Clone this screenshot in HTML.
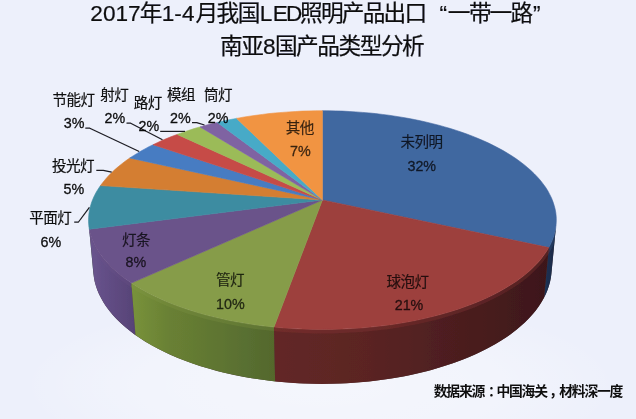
<!DOCTYPE html>
<html lang="zh"><head><meta charset="utf-8"><title>2017年1-4月我国LED照明产品出口“一带一路”南亚8国产品类型分析</title>
<style>
html,body{margin:0;padding:0;background:#edf0fb;}
body{width:636px;height:419px;overflow:hidden;font-family:"Liberation Sans","Noto Sans CJK SC",sans-serif;}
svg{display:block;font-family:"Liberation Sans","Noto Sans CJK SC",sans-serif;}
</style></head><body>
<svg width="636" height="419" viewBox="0 0 636 419" role="img">
<defs><filter id="soft" x="0" y="0" width="100%" height="100%" filterUnits="userSpaceOnUse"><feGaussianBlur stdDeviation=".45"/></filter><radialGradient id="ul" cx="0.5" cy="0.5" r="0.5"><stop offset="0" stop-color="#fff" stop-opacity=".42"/><stop offset=".6" stop-color="#fff" stop-opacity=".28"/><stop offset="1" stop-color="#fff" stop-opacity="0"/></radialGradient><linearGradient id="w0" gradientUnits="userSpaceOnUse" x1="540" y1="0" x2="558" y2="0"><stop offset="0" stop-color="#22365c"/><stop offset="1" stop-color="#172641"/></linearGradient><linearGradient id="w1" gradientUnits="userSpaceOnUse" x1="274" y1="0" x2="552" y2="0"><stop offset="0" stop-color="#632826"/><stop offset="0.35" stop-color="#5a2423"/><stop offset="0.75" stop-color="#481c1e"/><stop offset="1" stop-color="#3c1719"/></linearGradient><linearGradient id="w2" gradientUnits="userSpaceOnUse" x1="132" y1="0" x2="274" y2="0"><stop offset="0" stop-color="#78923b"/><stop offset="0.27" stop-color="#698034"/><stop offset="0.83" stop-color="#586e30"/><stop offset="1" stop-color="#54682c"/></linearGradient><linearGradient id="w3" gradientUnits="userSpaceOnUse" x1="88" y1="0" x2="134" y2="0"><stop offset="0" stop-color="#6a558f"/><stop offset="1" stop-color="#574377"/></linearGradient><linearGradient id="w4" gradientUnits="userSpaceOnUse" x1="86" y1="0" x2="92" y2="0"><stop offset="0" stop-color="#357f97"/><stop offset="1" stop-color="#2f7389"/></linearGradient></defs>
<rect width="636" height="419" fill="#edf0fb"/><ellipse cx="320" cy="385" rx="300" ry="90" fill="url(#ul)"/>
<g filter="url(#soft)">
<g id="pie"><clipPath id="wc"><path d="M556.1,225 555.5,228.9 554.7,232.8 553.6,236.8 552.1,240.7 550.3,244.7 548.2,248.6 545.8,252.5 543,256.4 540,260.3 536.5,264.1 532.8,267.9 528.7,271.6 524.3,275.3 519.6,278.9 514.5,282.5 509.1,286 503.4,289.4 497.4,292.7 491,295.9 484.4,299 477.5,302 470.3,304.8 462.8,307.6 455.1,310.2 447.1,312.6 438.9,314.9 430.4,317.1 421.8,319.1 412.9,320.9 403.9,322.6 394.7,324.1 385.3,325.4 375.9,326.6 366.3,327.5 356.7,328.3 346.9,328.9 337.2,329.2 327.3,329.4 317.5,329.4 307.7,329.2 297.9,328.9 288.2,328.3 278.6,327.5 269,326.6 259.5,325.4 250.2,324.1 241,322.6 232,321 223.1,319.1 214.4,317.1 206,315 197.8,312.6 189.8,310.2 182,307.6 174.6,304.8 167.4,302 160.4,299 153.8,295.9 147.5,292.7 141.5,289.4 135.7,286 130.4,282.5 125.3,279 120.5,275.3 116.1,271.6 112,267.9 108.3,264.1 104.9,260.3 101.8,256.4 99,252.5 96.6,248.6 94.5,244.7 92.7,240.7 91.3,236.8 90.1,232.9 89.3,228.9 88.8,225 93.4,273.6 94,277.7 94.8,281.9 96,286.1 97.4,290.2 99.2,294.4 101.3,298.6 103.7,302.7 106.4,306.8 109.5,310.9 112.8,315 116.5,319 120.6,322.9 124.9,326.8 129.6,330.6 134.5,334.4 139.8,338.1 145.4,341.7 151.4,345.1 157.6,348.5 164.1,351.8 170.8,354.9 177.9,357.9 185.2,360.8 192.8,363.6 200.6,366.2 208.7,368.6 216.9,370.9 225.4,373 234,374.9 242.9,376.7 251.9,378.2 261,379.6 270.2,380.8 279.6,381.8 289,382.6 298.5,383.2 308.1,383.6 317.6,383.8 327.2,383.8 336.8,383.6 346.4,383.2 355.9,382.6 365.3,381.8 374.6,380.8 383.9,379.6 393,378.2 402,376.7 410.8,374.9 419.5,373 427.9,370.9 436.2,368.6 444.3,366.1 452.1,363.6 459.6,360.8 467,357.9 474,354.9 480.8,351.8 487.3,348.5 493.5,345.1 499.4,341.6 505,338.1 510.3,334.4 515.3,330.6 519.9,326.8 524.3,322.9 528.3,319 532,314.9 535.4,310.9 538.4,306.8 541.1,302.7 543.6,298.5 545.6,294.4 547.4,290.2 548.9,286.1 550,281.9 550.9,277.7 551.4,273.6 Z"/></clipPath><path d="M556.1,225 555.5,228.9 554.7,232.8 553.6,236.8 552.1,240.7 550.3,244.7 548.2,248.6 545.8,252.5 543,256.4 540,260.3 536.5,264.1 532.8,267.9 528.7,271.6 524.3,275.3 519.6,278.9 514.5,282.5 509.1,286 503.4,289.4 497.4,292.7 491,295.9 484.4,299 477.5,302 470.3,304.8 462.8,307.6 455.1,310.2 447.1,312.6 438.9,314.9 430.4,317.1 421.8,319.1 412.9,320.9 403.9,322.6 394.7,324.1 385.3,325.4 375.9,326.6 366.3,327.5 356.7,328.3 346.9,328.9 337.2,329.2 327.3,329.4 317.5,329.4 307.7,329.2 297.9,328.9 288.2,328.3 278.6,327.5 269,326.6 259.5,325.4 250.2,324.1 241,322.6 232,321 223.1,319.1 214.4,317.1 206,315 197.8,312.6 189.8,310.2 182,307.6 174.6,304.8 167.4,302 160.4,299 153.8,295.9 147.5,292.7 141.5,289.4 135.7,286 130.4,282.5 125.3,279 120.5,275.3 116.1,271.6 112,267.9 108.3,264.1 104.9,260.3 101.8,256.4 99,252.5 96.6,248.6 94.5,244.7 92.7,240.7 91.3,236.8 90.1,232.9 89.3,228.9 88.8,225 93.4,273.6 94,277.7 94.8,281.9 96,286.1 97.4,290.2 99.2,294.4 101.3,298.6 103.7,302.7 106.4,306.8 109.5,310.9 112.8,315 116.5,319 120.6,322.9 124.9,326.8 129.6,330.6 134.5,334.4 139.8,338.1 145.4,341.7 151.4,345.1 157.6,348.5 164.1,351.8 170.8,354.9 177.9,357.9 185.2,360.8 192.8,363.6 200.6,366.2 208.7,368.6 216.9,370.9 225.4,373 234,374.9 242.9,376.7 251.9,378.2 261,379.6 270.2,380.8 279.6,381.8 289,382.6 298.5,383.2 308.1,383.6 317.6,383.8 327.2,383.8 336.8,383.6 346.4,383.2 355.9,382.6 365.3,381.8 374.6,380.8 383.9,379.6 393,378.2 402,376.7 410.8,374.9 419.5,373 427.9,370.9 436.2,368.6 444.3,366.1 452.1,363.6 459.6,360.8 467,357.9 474,354.9 480.8,351.8 487.3,348.5 493.5,345.1 499.4,341.6 505,338.1 510.3,334.4 515.3,330.6 519.9,326.8 524.3,322.9 528.3,319 532,314.9 535.4,310.9 538.4,306.8 541.1,302.7 543.6,298.5 545.6,294.4 547.4,290.2 548.9,286.1 550,281.9 550.9,277.7 551.4,273.6 Z" fill="#4a3a3a"/>
<path d="M89.3,229.2 89,227.1 88.8,225 93.4,273.6 93.7,275.8 94,278 Z" fill="url(#w4)"/><path clip-path="url(#wc)" d="M89.3,231.2 89,229.1 88.8,227" fill="none" stroke="#3c8ca1" stroke-opacity=".24" stroke-width="4"/>
<path d="M556.1,225 555.6,228.7 554.8,232.5 553.7,236.3 552.4,240 550.7,243.8 548.8,247.6 544.1,297.5 546.1,293.5 547.7,289.5 549,285.5 550.1,281.5 550.9,277.5 551.4,273.6 Z" fill="url(#w0)"/><path clip-path="url(#wc)" d="M556.1,227 555.6,230.7 554.8,234.5 553.7,238.3 552.4,242 550.7,245.8 548.8,249.6" fill="none" stroke="#4167a0" stroke-opacity=".24" stroke-width="4"/>
<path d="M131.3,283.1 126.5,279.8 121.9,276.4 117.7,273 113.7,269.5 110,265.9 106.7,262.3 103.6,258.7 100.8,255.1 98.3,251.4 96.1,247.7 94.2,244 92.5,240.3 91.2,236.6 90.1,232.9 89.3,229.2 94,278 94.8,281.9 95.9,285.9 97.2,289.8 98.9,293.7 100.8,297.6 103,301.5 105.4,305.4 108.2,309.3 111.2,313.1 114.6,316.9 118.2,320.6 122.1,324.3 126.3,328 130.7,331.5 135.5,335.1 Z" fill="url(#w3)"/><path clip-path="url(#wc)" d="M131.3,285.1 126.5,281.8 121.9,278.4 117.7,275 113.7,271.5 110,267.9 106.7,264.3 103.6,260.7 100.8,257.1 98.3,253.4 96.1,249.7 94.2,246 92.5,242.3 91.2,238.6 90.1,234.9 89.3,231.2" fill="none" stroke="#6b528a" stroke-opacity=".24" stroke-width="4"/>
<path d="M274,327.1 264.8,326.1 255.7,324.9 246.7,323.6 237.9,322.1 229.2,320.4 220.8,318.6 212.4,316.6 204.3,314.5 196.4,312.2 188.7,309.8 181.3,307.3 174.1,304.7 167.2,301.9 160.5,299 154.1,296 147.9,292.9 142.1,289.8 136.5,286.5 131.3,283.1 135.5,335.1 140.6,338.6 146.1,342 151.8,345.4 157.8,348.6 164.1,351.8 170.6,354.8 177.4,357.8 184.5,360.5 191.8,363.2 199.3,365.7 207,368.1 215,370.3 223.1,372.4 231.4,374.3 239.9,376.1 248.5,377.7 257.2,379.1 266.1,380.3 275.1,381.4 Z" fill="url(#w2)"/><path clip-path="url(#wc)" d="M274,329.1 264.8,328.1 255.7,326.9 246.7,325.6 237.9,324.1 229.2,322.4 220.8,320.6 212.4,318.6 204.3,316.5 196.4,314.2 188.7,311.8 181.3,309.3 174.1,306.7 167.2,303.9 160.5,301 154.1,298 147.9,294.9 142.1,291.8 136.5,288.5 131.3,285.1" fill="none" stroke="#869c49" stroke-opacity=".24" stroke-width="4"/>
<path d="M548.8,247.6 546.5,251.5 543.8,255.3 540.9,259.2 537.6,263 533.9,266.8 530,270.5 525.7,274.2 521.1,277.8 516.2,281.4 510.9,284.8 505.3,288.2 499.5,291.6 493.3,294.8 486.8,297.9 480,300.9 473,303.8 465.7,306.5 458.1,309.2 450.2,311.7 442.2,314 433.9,316.2 425.4,318.3 416.6,320.2 407.7,321.9 398.7,323.5 389.5,324.9 380.1,326.1 370.7,327.1 361.1,328 351.5,328.6 341.8,329.1 332.1,329.4 322.3,329.5 312.6,329.4 302.9,329.1 293.2,328.6 283.5,327.9 274,327.1 275.1,381.4 284.4,382.3 293.8,383 303.3,383.5 312.8,383.8 322.3,383.9 331.8,383.8 341.3,383.5 350.8,383 360.2,382.3 369.6,381.4 378.8,380.3 387.9,379 396.9,377.6 405.8,375.9 414.5,374.1 423,372.1 431.3,370 439.4,367.6 447.3,365.1 455,362.5 462.4,359.7 469.6,356.8 476.5,353.8 483.1,350.6 489.5,347.3 495.6,343.9 501.3,340.4 506.8,336.9 511.9,333.2 516.8,329.4 521.3,325.6 525.5,321.7 529.4,317.8 533,313.8 536.3,309.8 539.2,305.7 541.8,301.6 544.1,297.5 Z" fill="url(#w1)"/><path clip-path="url(#wc)" d="M548.8,249.6 546.5,253.5 543.8,257.3 540.9,261.2 537.6,265 533.9,268.8 530,272.5 525.7,276.2 521.1,279.8 516.2,283.4 510.9,286.8 505.3,290.2 499.5,293.6 493.3,296.8 486.8,299.9 480,302.9 473,305.8 465.7,308.5 458.1,311.2 450.2,313.7 442.2,316 433.9,318.2 425.4,320.3 416.6,322.2 407.7,323.9 398.7,325.5 389.5,326.9 380.1,328.1 370.7,329.1 361.1,330 351.5,330.6 341.8,331.1 332.1,331.4 322.3,331.5 312.6,331.4 302.9,331.1 293.2,330.6 283.5,329.9 274,329.1" fill="none" stroke="#9d3f3d" stroke-opacity=".24" stroke-width="4"/>
<path d="M322.4,200 L322.4,110.7 329.1,110.8 335.8,110.9 342.5,111.1 349.2,111.5 355.8,111.9 362.4,112.4 369,112.9 375.6,113.6 382.2,114.4 388.7,115.2 395.1,116.2 401.5,117.2 407.9,118.3 414.2,119.5 420.4,120.8 426.6,122.2 432.7,123.7 438.7,125.2 444.7,126.9 450.5,128.6 456.3,130.4 461.9,132.3 467.5,134.3 473,136.4 478.3,138.6 483.5,140.8 488.6,143.1 493.6,145.6 498.4,148.1 503.1,150.6 507.6,153.3 512,156 516.2,158.8 520.2,161.7 524.1,164.7 527.7,167.7 531.2,170.8 534.5,174 537.6,177.2 540.5,180.5 543.1,183.9 545.6,187.3 547.8,190.8 549.7,194.4 551.5,198 552.9,201.6 554.1,205.3 555.1,209 555.8,212.8 556.2,216.6 556.3,220.4 556.1,224.2 555.7,228.1 554.9,232 553.9,235.9 552.5,239.8 550.8,243.7 548.8,247.6Z" fill="#4167a0" stroke="#4167a0" stroke-width=".6" stroke-linejoin="round"/>
<path d="M322.4,200 L548.8,247.6 546.5,251.5 543.8,255.3 540.9,259.2 537.6,263 533.9,266.8 530,270.5 525.7,274.2 521.1,277.8 516.2,281.4 510.9,284.8 505.3,288.2 499.5,291.6 493.3,294.8 486.8,297.9 480,300.9 473,303.8 465.7,306.5 458.1,309.2 450.2,311.7 442.2,314 433.9,316.2 425.4,318.3 416.6,320.2 407.7,321.9 398.7,323.5 389.5,324.9 380.1,326.1 370.7,327.1 361.1,328 351.5,328.6 341.8,329.1 332.1,329.4 322.3,329.5 312.6,329.4 302.9,329.1 293.2,328.6 283.5,327.9 274,327.1Z" fill="#9d3f3d" stroke="#9d3f3d" stroke-width=".6" stroke-linejoin="round"/>
<path d="M322.4,200 L274,327.1 264.8,326.1 255.7,324.9 246.7,323.6 237.9,322.1 229.2,320.4 220.8,318.6 212.4,316.6 204.3,314.5 196.4,312.2 188.7,309.8 181.3,307.3 174.1,304.7 167.2,301.9 160.5,299 154.1,296 147.9,292.9 142.1,289.8 136.5,286.5 131.3,283.1Z" fill="#869c49" stroke="#869c49" stroke-width=".6" stroke-linejoin="round"/>
<path d="M322.4,200 L131.3,283.1 126.5,279.8 121.9,276.4 117.7,273 113.7,269.5 110,265.9 106.7,262.3 103.6,258.7 100.8,255.1 98.3,251.4 96.1,247.7 94.2,244 92.5,240.3 91.2,236.6 90.1,232.9 89.3,229.2Z" fill="#6b528a" stroke="#6b528a" stroke-width=".6" stroke-linejoin="round"/>
<path d="M322.4,200 L89.3,229.2 88.8,225.4 88.5,221.6 88.6,217.8 88.9,214.1 89.4,210.4 90.3,206.7 91.4,203.1 92.7,199.5 94.3,195.9 96.1,192.4 98.2,189 100.5,185.6Z" fill="#3c8ca1" stroke="#3c8ca1" stroke-width=".6" stroke-linejoin="round"/>
<path d="M322.4,200 L100.5,185.6 103,182.3 105.7,179 108.5,175.8 111.6,172.7 114.9,169.6 118.4,166.6 122,163.7 125.8,160.8 129.8,158Z" fill="#d47e33" stroke="#d47e33" stroke-width=".6" stroke-linejoin="round"/>
<path d="M322.4,200 L129.8,158 133.4,155.7 137.1,153.4 141,151.1 144.9,148.9 148.9,146.7 153.1,144.7Z" fill="#467bc2" stroke="#467bc2" stroke-width=".6" stroke-linejoin="round"/>
<path d="M322.4,200 L153.1,144.7 157.7,142.5 162.4,140.3 167.2,138.3 172.2,136.3 177.2,134.4Z" fill="#c64c47" stroke="#c64c47" stroke-width=".6" stroke-linejoin="round"/>
<path d="M322.4,200 L177.2,134.4 182.7,132.4 188.4,130.5 194.1,128.6 200,126.9Z" fill="#9bbb59" stroke="#9bbb59" stroke-width=".6" stroke-linejoin="round"/>
<path d="M322.4,200 L200,126.9 205.7,125.3 211.5,123.8 217.3,122.4Z" fill="#7f63a2" stroke="#7f63a2" stroke-width=".6" stroke-linejoin="round"/>
<path d="M322.4,200 L217.3,122.4 222.1,121.3 226.9,120.3 231.7,119.3 236.6,118.4Z" fill="#47aac7" stroke="#47aac7" stroke-width=".6" stroke-linejoin="round"/>
<path d="M322.4,200 L236.6,118.4 243,117.2 249.4,116.2 255.9,115.3 262.4,114.4 269,113.6 275.6,112.9 282.2,112.4 288.9,111.9 295.6,111.5 302.3,111.1 309,110.9 315.7,110.8 322.4,110.7Z" fill="#f19443" stroke="#f19443" stroke-width=".6" stroke-linejoin="round"/></g>
<g id="leaders"><polyline points="85.3,128.2 89.8,128.2 139.2,151.5" fill="none" stroke="#1c1c22" stroke-width="1.25" stroke-linejoin="round"/>
<polyline points="126.5,123.2 130.7,123.2 162.5,139.8" fill="none" stroke="#1c1c22" stroke-width="1.25" stroke-linejoin="round"/>
<polyline points="160.2,131.4 185,131.4" fill="none" stroke="#1c1c22" stroke-width="1.25" stroke-linejoin="round"/>
<polyline points="192,122.6 196.7,122.6 204.5,125" fill="none" stroke="#1c1c22" stroke-width="1.25" stroke-linejoin="round"/>
<polyline points="96.3,170.3 103.3,170.3 111.7,172.2" fill="none" stroke="#1c1c22" stroke-width="1.25" stroke-linejoin="round"/>
<polyline points="74.2,222 78.5,222 89.4,207.3" fill="none" stroke="#1c1c22" stroke-width="1.25" stroke-linejoin="round"/></g>
<g id="labels"><g fill="#0c0c10"><title>2017年1-4月我国LED照明产品出口“一带一路”</title><g stroke="#0c0c10" stroke-width="0.2"><text x="139.8" y="20.6" font-size="22.68">年</text><text x="195.4 216.6 237.8" y="20.6" font-size="22.68">月我国</text><text x="300 320.9 341.8 362.7 383.6 404.5 439.5 447.7 468.9 489.4 510.4 533" y="20.6" font-size="22.68">照明产品出口“一带一路”</text></g><g stroke="#0c0c10" stroke-width="0.2"><text x="90.3 102.9 115.4 128" y="20.6" font-size="22.6">2017</text><text x="161.8 174.3 181.9" y="20.6" font-size="22.6">1-4</text><text x="259.7 272.8 285.9" y="20.6" font-size="22.6">LED</text></g></g>
<g fill="#0c0c10"><title>南亚8国产品类型分析</title><g stroke="#0c0c10" stroke-width="0.2"><text x="220 241.2" y="54.3" font-size="22.68">南亚</text><text x="274.9 296.1 317.3 338.5 359.7 380.9 402.1" y="54.3" font-size="22.68">国产品类型分析</text></g><g stroke="#0c0c10" stroke-width="0.2"><text x="263.1" y="54.3" font-size="22.6">8</text></g></g>
<g fill="#111"><title>数据来源：中国海关，材料深一度</title><text x="433.8 446.3 458.9 471.4 488 496.5 509.1 521.6 534.2 549.2 559.3 571.8 584.4 596.9 609.5" y="395.6" font-size="13.81" font-weight="bold">数据来源：中国海关，材料深一度</text></g>
<g fill="#000" opacity="0.76"><title>未列明</title><text x="400.6 414.6 428.6" y="147.2" font-size="14.56" stroke="#000" stroke-width="0.2">未列明</text></g>
<g fill="#000" opacity="0.76"><title>32%</title><g stroke="#000" stroke-width="0.3"><text x="407.4 415.4 423.3" y="170.6" font-size="14.3">32%</text></g></g>
<g fill="#000" opacity="0.76"><title>球泡灯</title><text x="386.5 400.5 414.5" y="286.7" font-size="14.56" stroke="#000" stroke-width="0.2">球泡灯</text></g>
<g fill="#000" opacity="0.76"><title>21%</title><g stroke="#000" stroke-width="0.3"><text x="394.7 402.7 410.6" y="310.3" font-size="14.3">21%</text></g></g>
<g fill="#000" opacity="0.76"><title>管灯</title><text x="215.9 229.9" y="285.3" font-size="14.56" stroke="#000" stroke-width="0.2">管灯</text></g>
<g fill="#000" opacity="0.76"><title>10%</title><g stroke="#000" stroke-width="0.3"><text x="216 224 231.9" y="308.8" font-size="14.3">10%</text></g></g>
<g fill="#000" opacity="0.76"><title>灯条</title><text x="122.1 136.1" y="244.5" font-size="14.56" stroke="#000" stroke-width="0.2">灯条</text></g>
<g fill="#000" opacity="0.76"><title>8%</title><g stroke="#000" stroke-width="0.3"><text x="125.4 133.4" y="267.3" font-size="14.3">8%</text></g></g>
<g fill="#000" opacity="0.95"><title>平面灯</title><text x="29.3 43.3 57.3" y="223" font-size="14.56" stroke="#000" stroke-width="0.2">平面灯</text></g>
<g fill="#000" opacity="0.95"><title>6%</title><g stroke="#000" stroke-width="0.3"><text x="40.6 48.6" y="246.8" font-size="14.3">6%</text></g></g>
<g fill="#000" opacity="0.95"><title>投光灯</title><text x="51.9 65.9 79.9" y="171.4" font-size="14.56" stroke="#000" stroke-width="0.2">投光灯</text></g>
<g fill="#000" opacity="0.95"><title>5%</title><g stroke="#000" stroke-width="0.3"><text x="63.6 71.5" y="194.2" font-size="14.3">5%</text></g></g>
<g fill="#000" opacity="0.95"><title>节能灯</title><text x="52.6 66.6 80.6" y="104.7" font-size="14.56" stroke="#000" stroke-width="0.2">节能灯</text></g>
<g fill="#000" opacity="0.95"><title>3%</title><g stroke="#000" stroke-width="0.3"><text x="63.8 71.8" y="127.5" font-size="14.3">3%</text></g></g>
<g fill="#000" opacity="0.95"><title>射灯</title><text x="100.2 114.2" y="99.7" font-size="14.56" stroke="#000" stroke-width="0.2">射灯</text></g>
<g fill="#000" opacity="0.95"><title>2%</title><g stroke="#000" stroke-width="0.3"><text x="104.6 112.5" y="123.2" font-size="14.3">2%</text></g></g>
<g fill="#000" opacity="0.95"><title>路灯</title><text x="133.7 147.7" y="108" font-size="14.56" stroke="#000" stroke-width="0.2">路灯</text></g>
<g fill="#000" opacity="0.95"><title>2%</title><g stroke="#000" stroke-width="0.3"><text x="138.5 146.5" y="130.9" font-size="14.3">2%</text></g></g>
<g fill="#000" opacity="0.95"><title>模组</title><text x="166.9 180.9" y="99.7" font-size="14.56" stroke="#000" stroke-width="0.2">模组</text></g>
<g fill="#000" opacity="0.95"><title>2%</title><g stroke="#000" stroke-width="0.3"><text x="170.1 178.1" y="122.9" font-size="14.3">2%</text></g></g>
<g fill="#000" opacity="0.95"><title>筒灯</title><text x="203.9 217.9" y="99.8" font-size="14.56" stroke="#000" stroke-width="0.2">筒灯</text></g>
<g fill="#000" opacity="0.95"><title>2%</title><g stroke="#000" stroke-width="0.3"><text x="207.7 215.7" y="122.9" font-size="14.3">2%</text></g></g>
<g fill="#000" opacity="0.76"><title>其他</title><text x="285.7 299.7" y="133.2" font-size="14.56" stroke="#000" stroke-width="0.2">其他</text></g>
<g fill="#000" opacity="0.76"><title>7%</title><g stroke="#000" stroke-width="0.3"><text x="290 297.9" y="156" font-size="14.3">7%</text></g></g></g>
</g>
</svg>
</body></html>
